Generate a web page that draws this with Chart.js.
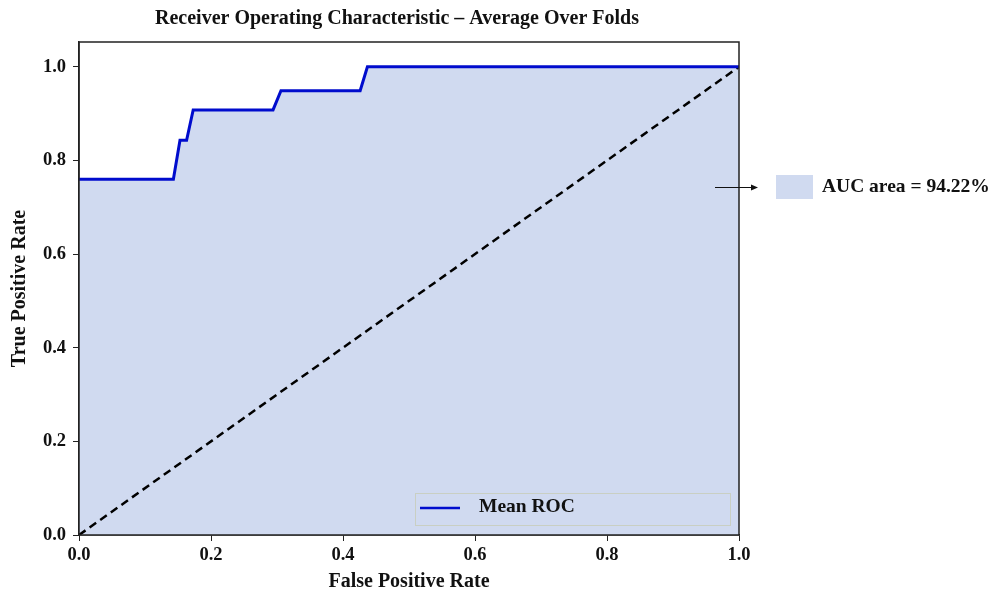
<!DOCTYPE html>
<html lang="en">
<head>
  <meta charset="UTF-8">
  <title>ROC - Average Over Folds</title>
  <style>
    html, body { margin: 0; padding: 0; background: #fff; }
    .box { width: 988px; height: 594px; }
  </style>
</head>
<body>
  <div class="box">
    <canvas id="grafico" width="988" height="594"></canvas>
  </div>

  <script src="https://cdn.jsdelivr.net/npm/chart.js"></script>
  <script>
    // dados
    const fpr = [0, 0.143, 0.153, 0.163, 0.173, 0.294, 0.306, 0.426, 0.437, 1.0];
    const tpr = [0.76, 0.76, 0.843, 0.843, 0.908, 0.908, 0.949, 0.949, 1.0, 1.0];
    const chanceX = [0, 1];
    const chanceY = [0, 1];
    const tickLabels = [0, 0.2, 0.4, 0.6, 0.8, 1.0];
    const titulo = 'Receiver Operating Characteristic \u2013 Average Over Folds';
    const legendaRoc = 'Mean ROC';
    const aucTexto = 'AUC area = 94.22%';

    const serif = '"Liberation Serif", "DejaVu Serif", serif';
    const azul = 'rgb(0, 12, 205)';
    const preenchimento = 'rgb(208, 218, 240)';

    const extras = {
      id: 'extras',
      afterDraw(chart) {
        const { ctx, chartArea: a } = chart;
        ctx.save();
        // moldura
        ctx.strokeStyle = '#222';
        ctx.lineWidth = 1.5;
        ctx.strokeRect(a.left, a.top, a.right - a.left, a.bottom - a.top);

        // título
        ctx.fillStyle = '#111';
        ctx.font = 'bold 20px ' + serif;
        ctx.textAlign = 'center';
        ctx.textBaseline = 'middle';
        ctx.fillText(titulo, 397, 19);

        // legenda dentro do gráfico
        ctx.strokeStyle = 'rgba(200, 205, 190, 0.9)';
        ctx.lineWidth = 1;
        ctx.strokeRect(415.5, 493.5, 315, 32);
        ctx.strokeStyle = azul;
        ctx.lineWidth = 2.5;
        ctx.beginPath();
        ctx.moveTo(420, 508);
        ctx.lineTo(460, 508);
        ctx.stroke();
        ctx.fillStyle = '#111';
        ctx.font = 'bold 19.5px ' + serif;
        ctx.textAlign = 'left';
        ctx.fillText(legendaRoc, 479, 507);

        // anotação AUC
        ctx.strokeStyle = '#111';
        ctx.lineWidth = 1.2;
        ctx.beginPath();
        ctx.moveTo(715, 187.5);
        ctx.lineTo(753, 187.5);
        ctx.stroke();
        ctx.fillStyle = '#111';
        ctx.beginPath();
        ctx.moveTo(758, 187.5);
        ctx.lineTo(751, 184.5);
        ctx.lineTo(751, 190.5);
        ctx.closePath();
        ctx.fill();
        ctx.fillStyle = preenchimento;
        ctx.fillRect(776, 175, 37, 24);
        ctx.fillStyle = '#111';
        ctx.font = 'bold 19.5px ' + serif;
        ctx.fillText(aucTexto, 822, 187);
        ctx.restore();
      }
    };

    const eixoFonte = { family: serif, weight: 'bold', size: 18.5 };
    const tituloFonte = { family: serif, weight: 'bold', size: 20 };

    const ctx = document.getElementById('grafico').getContext('2d');
    new Chart(ctx, {
      type: 'line',
      data: {
        datasets: [
          {
            label: legendaRoc,
            data: fpr.map((x, i) => ({ x: x, y: tpr[i] })),
            borderColor: azul,
            borderWidth: 3,
            backgroundColor: preenchimento,
            fill: 'origin',
            pointRadius: 0,
            tension: 0
          },
          {
            label: 'Chance',
            data: chanceX.map((x, i) => ({ x: x, y: chanceY[i] })),
            borderColor: '#000',
            borderWidth: 2.5,
            borderDash: [8, 5],
            fill: false,
            pointRadius: 0
          }
        ]
      },
      options: {
        responsive: false,
        animation: false,
        layout: { padding: { top: 42, right: 249, left: 0, bottom: 0 } },
        plugins: {
          legend: { display: false },
          tooltip: { enabled: false },
          title: { display: false },
          filler: { drawTime: 'beforeDatasetsDraw' }
        },
        scales: {
          x: {
            type: 'linear',
            min: 0,
            max: 1,
            afterBuildTicks: s => { s.ticks = tickLabels.map(v => ({ value: v })); },
            afterFit: s => { s.height = 59; },
            grid: { drawOnChartArea: false, tickLength: 6, color: '#222' },
            border: { color: '#222', width: 1.5 },
            ticks: {
              color: '#111',
              font: eixoFonte,
              padding: 3,
              maxRotation: 0,
              callback: v => v.toFixed(1)
            },
            title: {
              display: true,
              text: 'False Positive Rate',
              color: '#111',
              font: tituloFonte,
              padding: { top: 8, bottom: 0 }
            }
          },
          y: {
            type: 'linear',
            min: 0,
            max: 1.053,
            afterBuildTicks: s => { s.ticks = tickLabels.map(v => ({ value: v })); },
            afterFit: s => { s.width = 79; },
            grid: { drawOnChartArea: false, tickLength: 6, color: '#222' },
            border: { color: '#222', width: 1.5 },
            ticks: {
              color: '#111',
              font: eixoFonte,
              padding: 7,
              callback: v => v.toFixed(1)
            },
            title: {
              display: true,
              text: 'True Positive Rate',
              color: '#111',
              font: tituloFonte,
              padding: { top: 8, bottom: 0 }
            }
          }
        }
      },
      plugins: [extras]
    });
  </script>
</body>
</html>
